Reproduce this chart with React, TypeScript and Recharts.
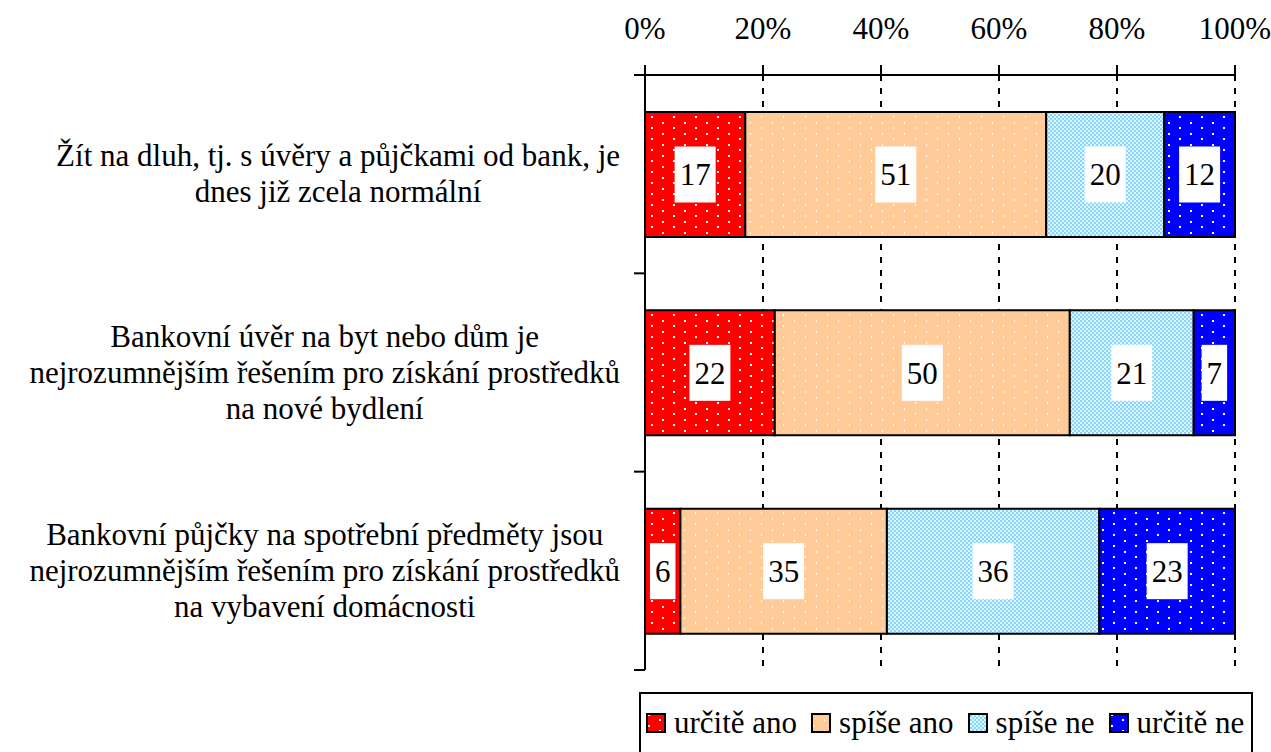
import React from 'react';
import { BarChart, Bar, XAxis, YAxis, CartesianGrid, LabelList, Legend } from 'recharts';

const categories = [
  'Žít na dluh, tj. s úvěry a půjčkami od bank, je\ndnes již zcela normální',
  'Bankovní úvěr na byt nebo dům je\nnejrozumnějším řešením pro získání prostředků\nna nové bydlení',
  'Bankovní půjčky na spotřební předměty jsou\nnejrozumnějším řešením pro získání prostředků\nna vybavení domácnosti',
];
const urciteAno = [17, 22, 6];
const spiseAno = [51, 50, 35];
const spiseNe = [20, 21, 36];
const urciteNe = [12, 7, 23];
const xTicks = [0, 20, 40, 60, 80, 100];

const seriesNames = ['určitě ano', 'spíše ano', 'spíše ne', 'určitě ne'];
const seriesKeys = ['a', 'b', 'c', 'd'];
const seriesFills = ['url(#pRed)', 'url(#pPeach)', 'url(#pCheck)', 'url(#pBlue)'];

const data = categories.map((c, i) => ({
  cat: c,
  a: urciteAno[i],
  b: spiseAno[i],
  c: spiseNe[i],
  d: urciteNe[i],
}));

const FONT = 'Liberation Serif';
const FS = 31;

let ctx: CanvasRenderingContext2D | null = null;
function measure(t: string): number {
  if (!ctx) {
    const c = document.createElement('canvas');
    ctx = c.getContext('2d');
  }
  if (!ctx) return t.length * FS * 0.45;
  ctx.font = `${FS}px '${FONT}', serif`;
  return ctx.measureText(t).width;
}

const YTick = (props: any) => {
  const { x, y, payload, index } = props;
  const lines = String(payload.value).split('\n');
  const maxW = Math.max(...lines.map(measure));
  const cx = x - maxW / 2;
  const lh = 36;
  const startY = y - ((lines.length - 1) * lh) / 2;
  const off = payload.offset ?? 0;
  const axisX = x + 25;
  return (
    <g>
      {lines.map((l, i) => (
        <text key={i} x={cx} y={startY + i * lh} dy="0.33em" textAnchor="middle" fontFamily={FONT} fontSize={FS} fill="#000">
          {l}
        </text>
      ))}
      <line x1={axisX - 11} x2={axisX} y1={y + off} y2={y + off} stroke="#000" strokeWidth={2} />
      {index === 0 && <line x1={axisX - 11} x2={axisX} y1={y - off} y2={y - off} stroke="#000" strokeWidth={2} />}
    </g>
  );
};

const BoxLabel = (props: any) => {
  const { x, y, width, height, value } = props;
  const text = String(value);
  const tw = measure(text);
  const bw = tw + 10;
  const bh = 56;
  const cx = x + width / 2;
  const cy = y + height / 2;
  return (
    <g>
      <rect x={cx - bw / 2} y={cy - bh / 2} width={bw} height={bh} fill="#fff" />
      <text x={cx} y={cy} dy="0.35em" textAnchor="middle" fontFamily={FONT} fontSize={FS} fill="#000">
        {text}
      </text>
    </g>
  );
};

const LegendContent = () => (
  <div
    style={{
      boxSizing: 'border-box',
      width: 614,
      height: 72,
      border: '2px solid #000',
      background: '#fff',
      display: 'flex',
      alignItems: 'center',
      paddingLeft: 5,
      paddingBottom: 10,
      fontFamily: FONT,
      fontSize: FS,
      lineHeight: '36px',
      color: '#000',
      whiteSpace: 'nowrap',
    }}
  >
    {seriesNames.map((n, i) => (
      <div key={n} style={{ display: 'flex', alignItems: 'center', marginRight: 14, flexShrink: 0 }}>
        <svg width={20} height={20} style={{ marginRight: 8, display: 'block' }}>
          <rect x={1} y={1} width={18} height={18} fill={seriesFills[i]} stroke="#000" strokeWidth={2} />
        </svg>
        <span>{n}</span>
      </div>
    ))}
  </div>
);

export default function App() {
  return (
    <div style={{ position: 'absolute', left: 0, top: 0, width: 1271, height: 752, background: '#fff', fontFamily: FONT }}>
      <svg width={0} height={0} style={{ position: 'absolute' }}>
        <defs>
          <pattern id="pRed" width={22} height={11} patternUnits="userSpaceOnUse">
            <rect width={22} height={11} fill="#FF0000" />
            <rect x={2} y={1} width={2} height={2} fill="#fff" />
            <rect x={13} y={6} width={2} height={2} fill="#fff" />
          </pattern>
          <pattern id="pBlue" width={22} height={11} patternUnits="userSpaceOnUse">
            <rect width={22} height={11} fill="#0000FF" />
            <rect x={2} y={1} width={2} height={2} fill="#fff" />
            <rect x={13} y={6} width={2} height={2} fill="#fff" />
          </pattern>
          <pattern id="pPeach" width={22} height={11} patternUnits="userSpaceOnUse">
            <rect width={22} height={11} fill="#FFCC99" />
            <rect x={2} y={1} width={1} height={2} fill="#fff" />
            <rect x={13} y={6} width={1} height={2} fill="#fff" />
          </pattern>
          <pattern id="pCheck" width={4} height={4} patternUnits="userSpaceOnUse">
            <rect width={4} height={4} fill="#CCFFFF" />
            <rect x={0} y={0} width={2} height={2} fill="#99CCFF" />
            <rect x={2} y={2} width={2} height={2} fill="#99CCFF" />
          </pattern>
        </defs>
      </svg>
      <BarChart
        width={1271}
        height={752}
        data={data}
        layout="vertical"
        margin={{ top: 0, right: 36, bottom: 82, left: 0 }}
        barSize={125}
      >
        <CartesianGrid horizontal={false} vertical stroke="#000" strokeWidth={2} strokeDasharray="6 7" />
        <XAxis
          type="number"
          orientation="top"
          domain={[0, 100]}
          ticks={xTicks}
          tickFormatter={(v: number) => `${v}%`}
          height={75}
          tickSize={10}
          tickMargin={26}
          axisLine={{ stroke: '#000', strokeWidth: 2 }}
          tickLine={{ stroke: '#000', strokeWidth: 2 }}
          tick={{ fill: '#000', fontSize: FS, fontFamily: FONT }}
          interval={0}
        />
        <XAxis
          xAxisId="b"
          type="number"
          orientation="bottom"
          domain={[0, 100]}
          height={0}
          tick={false}
          tickLine={false}
          axisLine={{ stroke: '#808080', strokeWidth: 2 }}
        />
        <YAxis
          type="category"
          dataKey="cat"
          width={645}
          tickSize={0}
          tickMargin={25}
          tickLine={false}
          axisLine={{ stroke: '#000', strokeWidth: 2 }}
          tick={<YTick />}
          interval={0}
        />
        <YAxis
          yAxisId="r"
          type="category"
          dataKey="cat"
          orientation="right"
          width={0}
          tick={false}
          tickLine={false}
          axisLine={{ stroke: '#808080', strokeWidth: 2 }}
        />
        {seriesKeys.map((k, i) => (
          <Bar
            key={k}
            dataKey={k}
            name={seriesNames[i]}
            stackId="s"
            fill={seriesFills[i]}
            stroke="#000"
            strokeWidth={2}
            isAnimationActive={false}
          >
            <LabelList dataKey={k} content={<BoxLabel />} />
          </Bar>
        ))}
        <Legend
          layout="horizontal"
          verticalAlign="middle"
          align="center"
          content={<LegendContent />}
          wrapperStyle={{ left: 639, top: 692, width: 614, height: 72 }}
        />
      </BarChart>
    </div>
  );
}
